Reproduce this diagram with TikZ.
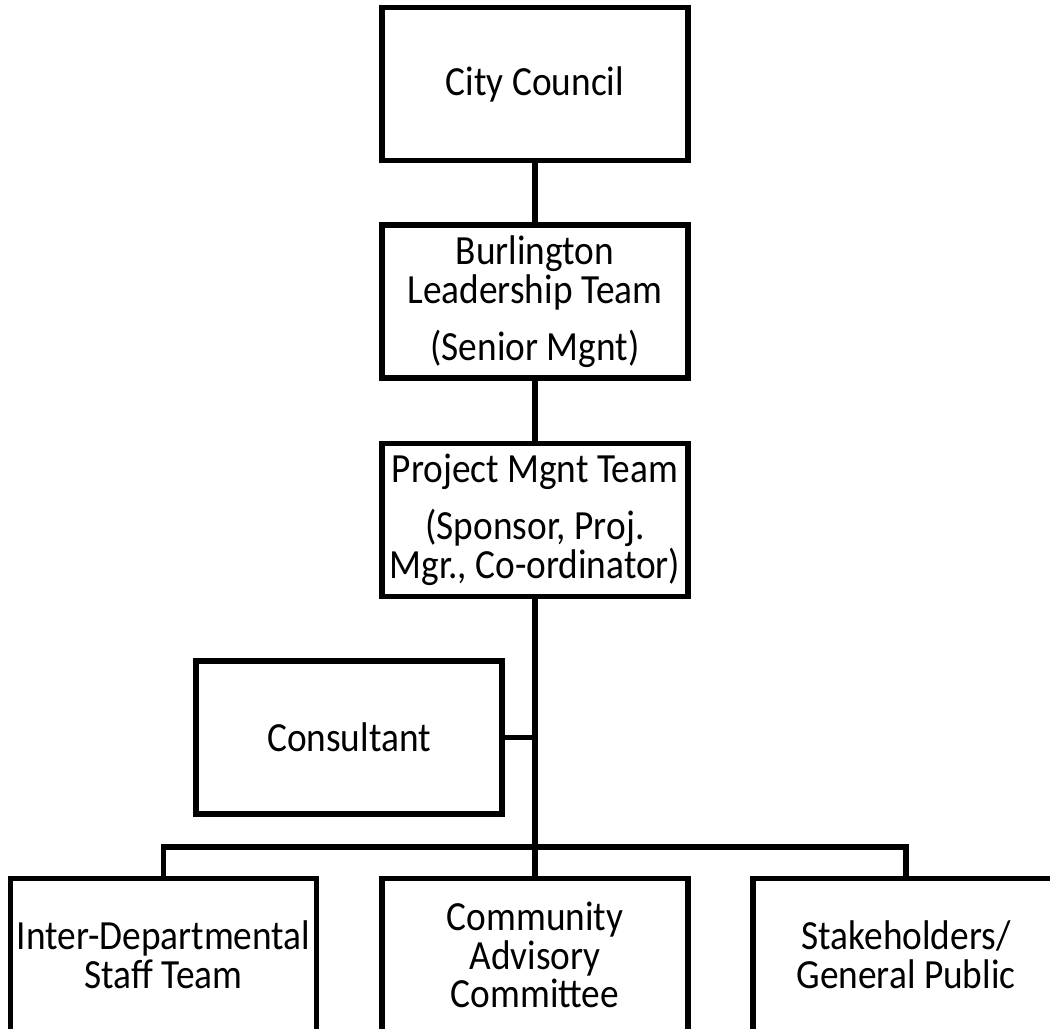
\documentclass[tikz,border=0pt]{standalone}
\usepackage{fontspec}
\setmainfont{Carlito}[FakeStretch=0.9]
\usepackage{tikz}

\begin{document}
\begin{tikzpicture}[x=0.025cm, y=-0.025cm,
		box/.style={draw, fill=white, line width=3.7pt, line join=miter,
			minimum width=7.65cm, minimum height=3.82cm, inner sep=0pt,
			align=center, font=\fontsize{29.5}{27.5}\selectfont},
		link/.style={line width=3.7pt}]
		\useasboundingbox (0, 0) rectangle (1050, 1029);
		\clip (0, 0) rectangle (1050, 1029);

		% the chain of teams down the middle
		\node[box] (council) at (535, 84) {City Council};
		\node[box] (blt) at (535, 301.5) {Burlington\\Leadership Team\\[13pt](Senior Mgnt)};
		\node[box] (pmt) at (535, 520) {Project Mgnt Team\\[13pt](Sponsor, Proj.\\Mgr., Co-ordinator)};
		\node[box] (consult) at (349, 737.5) {Consultant};

		% bottom row, running off the page
		\node[box] (staff) at (163.5, 955) {Inter-Departmental\\Staff Team};
		\node[box] (cac) at (535, 955) {Community\\Advisory\\Committee};
		\node[box] (public) at (906, 955) {Stakeholders/\\General Public};

		\coordinate (bus) at (535, 847);

		\draw[link] (council) -- (blt);
		\draw[link] (blt) -- (pmt);
		\draw[link] (pmt) -- (cac);
		\draw[link] (consult.east) -- (consult.east -| pmt.south);
		\draw[link] (staff.north) |- (bus) -| (public.north);

	\end{tikzpicture}
\end{document}
